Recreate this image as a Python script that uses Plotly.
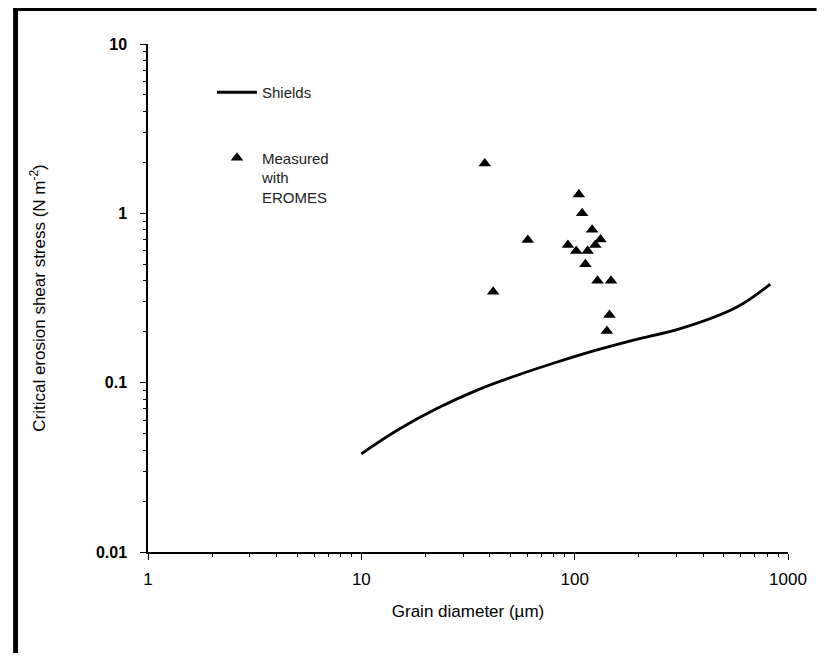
import plotly.graph_objects as go

# Shields curve
shields_d = [10, 14.8, 22.7, 34.7, 53.2, 81.5, 125, 191, 315, 577, 826]
shields_tau = [0.038, 0.0525, 0.0705, 0.090, 0.110, 0.1315, 0.155, 0.179, 0.209, 0.28, 0.382]

# EROMES measurements
eromes_d = [37.9, 104.6, 108.4, 120.7, 132.2, 125, 60.3, 93, 101.7, 115,
            112.3, 128, 148, 41.5, 145.6, 141.6]
eromes_tau = [1.97, 1.29, 1.0, 0.80, 0.70, 0.65, 0.695, 0.65, 0.60, 0.60,
              0.50, 0.40, 0.40, 0.344, 0.251, 0.202]

# minor tick positions for the log axes
x_minor = [2, 3, 4, 5, 6, 7, 8, 9, 20, 30, 40, 50, 60, 70, 80, 90,
           200, 300, 400, 500, 600, 700, 800, 900]
y_minor = [0.02, 0.03, 0.04, 0.05, 0.06, 0.07, 0.08, 0.09,
           0.2, 0.3, 0.4, 0.5, 0.6, 0.7, 0.8, 0.9, 2, 3, 4, 5, 6, 7, 8, 9]

# page is 827x661, the browser body adds an 8px margin
W, H = 827, 661
OFF = 8
L, R, T, B = 148, 29, 44, 109
pw, ph = W - L - R, H - T - B


def px(x):
    return (x - L) / pw


def py(y):
    return (H - B - y) / ph


fig = go.Figure()
fig.add_trace(go.Scatter(x=shields_d, y=shields_tau, mode="lines",
                         line=dict(color="black", width=2.8, shape="spline"),
                         name="Shields", legendgroup="a"))
fig.add_trace(go.Scatter(x=eromes_d, y=eromes_tau, mode="markers",
                         marker=dict(symbol="triangle-up", size=11, color="black"),
                         name="Measured<br>with<br>EROMES", legendgroup="b"))

font = "Liberation Sans, Arial, sans-serif"
fig.update_layout(
    width=W - 2 * OFF, height=H - 2 * OFF,
    margin=dict(l=L - OFF, r=R - OFF, t=T - OFF, b=B - OFF),
    paper_bgcolor="white", plot_bgcolor="white",
    font=dict(family=font, color="black"),
    showlegend=True,
    legend=dict(x=px(213), y=py(76), xanchor="left", yanchor="top",
                bgcolor="rgba(0,0,0,0)", font=dict(size=15, color="#222222"),
                tracegroupgap=43, itemwidth=40, valign="top"),
    xaxis=dict(type="log", range=[0, 3], showgrid=False, zeroline=False,
               showline=True, linecolor="black", linewidth=1.5,
               ticks="outside", ticklen=6, tickcolor="black",
               tickvals=[1, 10, 100, 1000], ticktext=["1", "10", "100", "1000"],
               tickfont=dict(size=17, family=font, color="black"),
               ticklabelstandoff=5,
               minor=dict(tickmode="array", tickvals=x_minor, ticks="outside",
                          ticklen=3, tickcolor="black"),
               title=dict(text="Grain diameter (µm)", font=dict(size=17), standoff=17)),
    yaxis=dict(type="log", range=[-2, 1], showgrid=False, zeroline=False,
               showline=True, linecolor="black", linewidth=1.5,
               ticks="outside", ticklen=6, tickcolor="black",
               tickvals=[0.01, 0.1, 1, 10],
               ticktext=["<b>0.01</b>", "<b>0.1</b>", "<b>1</b>", "<b>10</b>"],
               tickfont=dict(size=16, family=font, color="black"),
               ticklabelstandoff=10,
               minor=dict(tickmode="array", tickvals=y_minor, ticks="outside",
                          ticklen=3, tickcolor="black"),
               title=dict(text="Critical erosion shear stress (N m<sup>-2</sup>)",
                          font=dict(size=17), standoff=46)),
    shapes=[
        dict(type="rect", xref="paper", yref="paper", x0=px(11), x1=px(16),
             y0=py(H), y1=py(8), fillcolor="black", line=dict(width=0)),
        dict(type="rect", xref="paper", yref="paper", x0=px(11), x1=px(W),
             y0=py(11), y1=py(8), fillcolor="black", line=dict(width=0)),
    ],
)

fig.write_html("out.html")
